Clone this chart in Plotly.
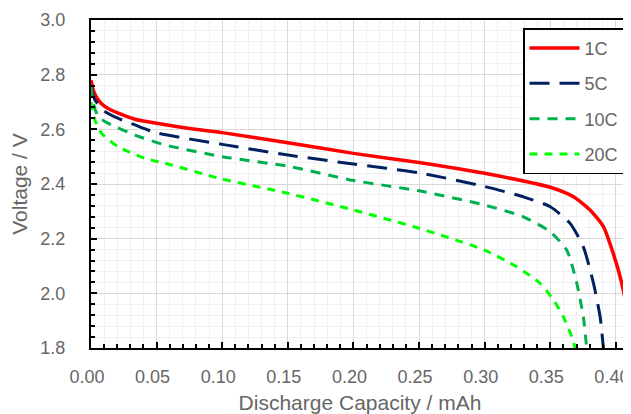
import plotly.graph_objects as go

cap_1c = [0, 0.002, 0.0056, 0.0107, 0.0208, 0.0335, 0.05, 0.075, 0.10, 0.15, 0.20, 0.25,
          0.30, 0.35, 0.3677, 0.3803, 0.3905, 0.398, 0.4045, 0.4096, 0.4116, 0.415]
v_1c = [2.78, 2.74, 2.707, 2.683, 2.659, 2.637, 2.622, 2.603, 2.588, 2.551, 2.512, 2.479,
        2.439, 2.388, 2.353, 2.305, 2.244, 2.146, 2.037, 1.914, 1.86, 1.75]

cap_5c = [0, 0.001, 0.003, 0.0107, 0.0208, 0.0335, 0.05, 0.10, 0.15, 0.20, 0.25, 0.30,
          0.3295, 0.35, 0.3651, 0.3752, 0.3829, 0.388, 0.3905, 0.392]
v_5c = [2.762, 2.735, 2.707, 2.665, 2.64, 2.616, 2.587, 2.545, 2.506, 2.473, 2.441, 2.391,
        2.353, 2.317, 2.256, 2.17, 2.037, 1.914, 1.80, 1.74]

cap_10c = [0, 0.0018, 0.0056, 0.0132, 0.0335, 0.0564, 0.10, 0.15, 0.20, 0.25, 0.30,
           0.3295, 0.35, 0.3626, 0.3702, 0.3752, 0.3778, 0.380]
v_10c = [2.756, 2.695, 2.646, 2.622, 2.579, 2.543, 2.50, 2.465, 2.413, 2.375, 2.323,
         2.28, 2.225, 2.158, 2.037, 1.914, 1.80, 1.72]

cap_20c = [0, 0.003, 0.0081, 0.0208, 0.041, 0.0564, 0.10, 0.15, 0.20, 0.25, 0.30,
           0.3245, 0.3422, 0.3524, 0.36, 0.3664, 0.3689, 0.371]
v_20c = [2.70, 2.634, 2.585, 2.536, 2.494, 2.476, 2.418, 2.366, 2.305, 2.238, 2.158,
         2.097, 2.037, 1.976, 1.914, 1.841, 1.80, 1.75]

names = ["1C", "5C", "10C", "20C"]
colors = ["#ff0000", "#002060", "#00b050", "#00ff00"]
dashes = ["solid", "20px,10px", "10px,8px", "8px,7px"]
widths = [3.5, 3, 3, 3]

fig = go.Figure()
for name, xs, ys, c, d, w in zip(names, [cap_1c, cap_5c, cap_10c, cap_20c],
                                 [v_1c, v_5c, v_10c, v_20c], colors, dashes, widths):
    fig.add_trace(go.Scatter(x=xs, y=ys, mode="lines", name=name, legendgroup=name,
                             line=dict(color=c, dash=d, width=w, shape="spline", smoothing=0.6)))

axis_common = dict(
    showline=True, linecolor="black", linewidth=2, mirror=True,
    ticks="inside", ticklen=6, tickcolor="black", tickwidth=1.5,
    showgrid=True, gridcolor="#d9d9d9", gridwidth=1,
    zeroline=False, automargin=False, ticklabeloverflow="allow",
    tickfont=dict(size=18, color="#666666"),
)

fig.update_xaxes(range=[0, 0.41], dtick=0.05, tick0=0, tickformat=".2f",
                 title_text="Discharge Capacity / mAh", ticklabelstandoff=11,
                 ticklabelshift=-4, title_standoff=10,
                 title_font=dict(size=21, color="#666666"),
                 minor=dict(dtick=0.01, ticks="inside", ticklen=4, tickcolor="black",
                            showgrid=True, gridcolor="#f0f0f0", gridwidth=1),
                 **axis_common)
fig.update_yaxes(range=[1.8, 3.0], dtick=0.2, tick0=1.8, tickformat=".1f",
                 title_text="Voltage / V", ticklabelstandoff=20, title_standoff=8,
                 title_font=dict(size=21, color="#666666"),
                 minor=dict(dtick=0.04, ticks="inside", ticklen=4, tickcolor="black",
                            showgrid=True, gridcolor="#f0f0f0", gridwidth=1),
                 **axis_common)

fig.update_layout(
    width=623, height=406,
    margin=dict(l=83, r=2, t=12, b=66, autoexpand=False),
    paper_bgcolor="white", plot_bgcolor="white",
    font=dict(family="Liberation Sans, Arial, sans-serif", color="#666666"),
    legend=dict(x=0.803, y=0.975, xanchor="left", yanchor="top",
                bgcolor="white", bordercolor="black", borderwidth=1.5,
                font=dict(size=18, color="#666666"),
                itemwidth=50, tracegroupgap=9),
    showlegend=True,
)

fig.write_html("out.html")
